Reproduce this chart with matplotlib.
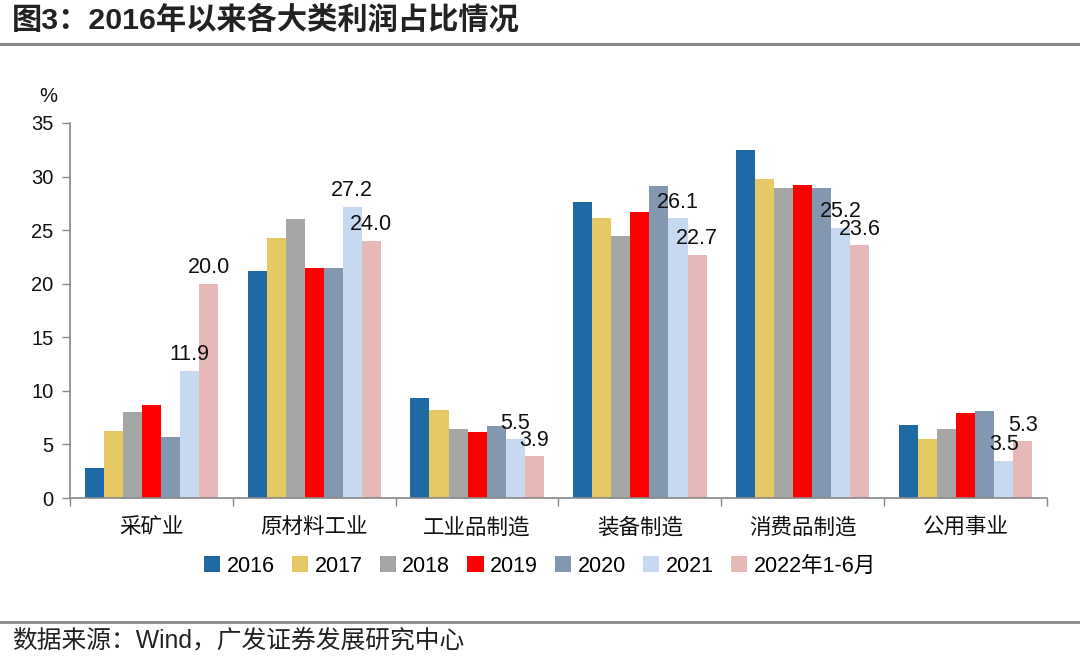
import matplotlib
matplotlib.use("Agg")
import matplotlib.pyplot as plt
import numpy as np

plt.rcParams['font.family'] = ['Liberation Sans', 'Noto Sans CJK SC', 'DejaVu Sans']

categories = ['采矿业', '原材料工业', '工业品制造', '装备制造', '消费品制造', '公用事业']
series_names = ['2016', '2017', '2018', '2019', '2020', '2021', '2022年1-6月']
values = {
    '2016': [2.8, 21.2, 9.3, 27.6, 32.5, 6.8],
    '2017': [6.3, 24.3, 8.2, 26.1, 29.8, 5.5],
    '2018': [8.0, 26.0, 6.4, 24.5, 28.9, 6.4],
    '2019': [8.7, 21.5, 6.2, 26.7, 29.2, 7.9],
    '2020': [5.7, 21.5, 6.7, 29.1, 28.9, 8.1],
    '2021': [11.9, 27.2, 5.5, 26.1, 25.2, 3.5],
    '2022年1-6月': [20.0, 24.0, 3.9, 22.7, 23.6, 5.3],
}
labeled_series = ['2021', '2022年1-6月']
colors = ['#1F6AA5', '#E6C864', '#A6A6A6', '#FF0000', '#8497B0', '#C6D9F0', '#E6B8B7']
yticks = [0, 5, 10, 15, 20, 25, 30, 35]

fig = plt.figure(figsize=(10.8, 6.65), dpi=100)
ax = fig.add_axes([70/1080, 1-498/665, (1047-70)/1080, (498-123)/665])

x = np.arange(len(categories))
w = 0.117
n = len(series_names)
for i, (name, col) in enumerate(zip(series_names, colors)):
    bars = ax.bar(x + (i - (n-1)/2) * w, values[name], width=w, color=col,
                  label=name, zorder=2)
    if name in labeled_series:
        for b, v in zip(bars, values[name]):
            ax.annotate(f'{v:.1f}', (b.get_x() + b.get_width()/2, v),
                        xytext=(0, 4), textcoords='offset points',
                        ha='center', va='bottom', fontsize=15.5,
                        color='#111111', zorder=5)

ax.set_xlim(-0.5, len(categories) - 0.5)
ax.set_ylim(0, 35)
ax.set_yticks(yticks)
ax.set_yticklabels([str(t) for t in yticks], fontsize=14.5, color='#111111')
ax.set_xticks(np.arange(len(categories) + 1) - 0.5)
ax.set_xticklabels([])
ax.set_xticks(x, minor=True)
ax.set_xticklabels(categories, minor=True, fontsize=15.5, color='#111111')
ax.tick_params(axis='x', which='minor', length=0, pad=14)
ax.tick_params(axis='x', which='major', length=6, color='#888888', width=1)
ax.tick_params(axis='y', length=6, color='#888888', width=1, pad=6)
for s in ['top', 'right']:
    ax.spines[s].set_visible(False)
for s in ['left', 'bottom']:
    ax.spines[s].set_color('#888888')
    ax.spines[s].set_linewidth(1.2)

fig.text(48/1080, 1-97/665, '%', fontsize=14.5, ha='center', va='center', color='#111111')

leg = fig.legend(loc='center', bbox_to_anchor=(0.5, 1-566/665), ncol=7, frameon=False,
                 fontsize=15.5, handlelength=0.75, handleheight=0.75, handletextpad=0.3,
                 columnspacing=0.8)

fig.text(12/1080, 1-20/665, '图3：2016年以来各大类利润占比情况', fontsize=21.8,
         fontweight='bold', ha='left', va='center', color='#222222')
fig.add_artist(plt.Line2D([0, 1], [1-44/665, 1-44/665], color='#888888', lw=2.2,
                          transform=fig.transFigure))
fig.add_artist(plt.Line2D([0, 1], [1-622/665, 1-622/665], color='#888888', lw=2,
                          transform=fig.transFigure))
fig.text(12/1080, 1-641/665, '数据来源：Wind，广发证券发展研究中心', fontsize=17.8,
         ha='left', va='center', color='#222222')

fig.savefig('out.png', dpi=100)
